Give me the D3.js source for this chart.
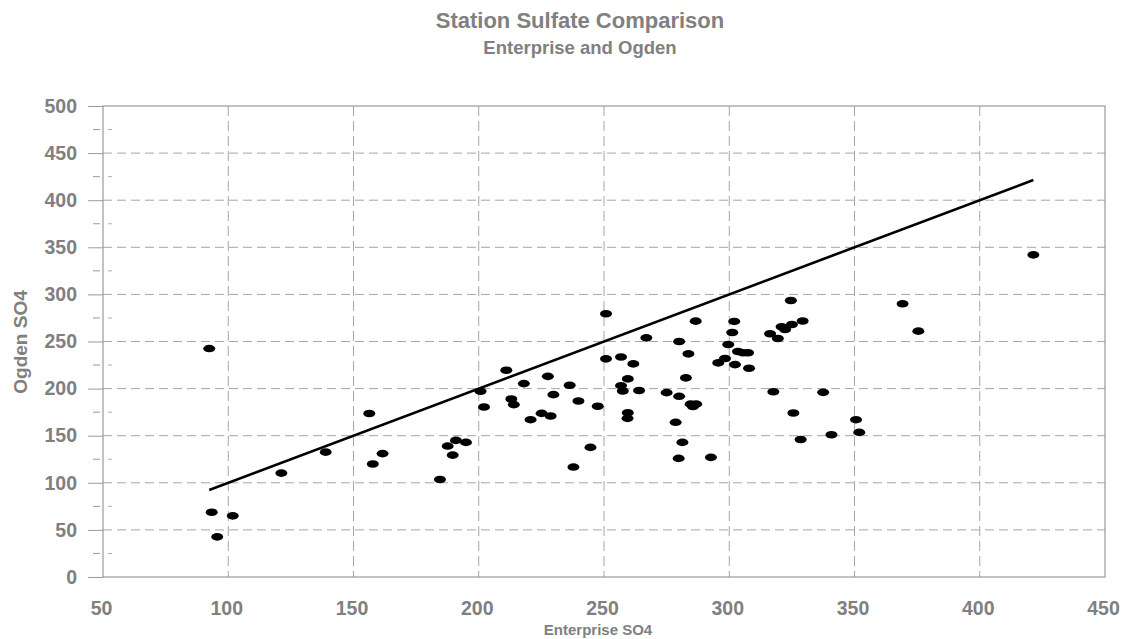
<!DOCTYPE html>
<html><head><meta charset="utf-8">
<script src="https://cdn.jsdelivr.net/npm/d3@7/dist/d3.min.js"></script>
<style>
body{margin:0;background:#fff;}
text{font-family:"Liberation Sans",Arial,sans-serif;font-weight:bold;fill:#808080;}
</style></head><body>
<svg id="c" width="1124" height="639"></svg>
<script>
const enterprise = [92.4,93.4,95.6,101.8,121.2,138.9,156.3,157.7,161.6,184.5,187.6,189.6,190.9,194.9,200.7,202.1,211,213,214,218,220.7,225.1,227.6,228.7,229.8,236.3,237.8,239.8,244.6,247.5,250.8,250.8,256.8,256.8,257.5,259.5,259.5,259.4,261.7,264,266.9,275,278.6,280,280,279.8,281.3,282.7,283.7,284.6,285.5,286.6,286.8,292.7,295.6,298.3,299.6,301.2,302,302.3,303.5,305.5,307.5,307.9,316.3,317.6,319.4,320.9,322.3,325,324.6,325.6,328.5,329.3,337.5,340.8,350.6,351.9,369.2,375.5,421.4];
const ogden = [242.5,68.8,42.6,64.9,110.3,132.6,173.6,120,131,103.5,139,129.4,145,142.9,197.2,180.5,219.5,189,183,205.3,167,173.7,213,170.9,193.6,203.5,116.7,186.9,137.6,181.2,279.5,231.6,233.5,203.1,197.5,210.3,174.3,168.4,226.2,198,253.9,195.7,164.2,250,191.8,125.9,142.9,211.4,236.9,183.5,181,271.6,183.5,127,227.3,231.9,246.8,259.6,271.3,225.5,239.4,238,238,221.6,258.2,196.7,253.2,265.6,262.8,268,293.5,174.1,146,271.7,196,151,167,153.5,290,261,342];
const xTicks = [50,100,150,200,250,300,350,400,450];
const yTicks = [0,50,100,150,200,250,300,350,400,450,500];
const yMinor = [25,75,125,175,225,275,325,375,425,475];
const title = "Station Sulfate Comparison";
const subtitle = "Enterprise and Ogden";
const xLabel = "Enterprise SO4";
const yLabel = "Ogden SO4";

const svg = d3.select("#c");
const L=103,R=1105,T=106,B=577;
const x = d3.scaleLinear().domain([50,450]).range([L,R]);
const y = d3.scaleLinear().domain([0,500]).range([B,T]);
const grid = "#a6a6a6";
const FF = "Liberation Sans, Arial, sans-serif";

// gridlines
svg.append("g").selectAll("line").data(yTicks.filter(v=>v>0&&v<500)).join("line")
  .attr("x1",L).attr("x2",R).attr("y1",d=>y(d)).attr("y2",d=>y(d))
  .attr("stroke",grid).attr("stroke-width",1).attr("stroke-dasharray","9,5");
svg.append("g").selectAll("line").data(xTicks.filter(v=>v>50&&v<450)).join("line")
  .attr("x1",d=>x(d)).attr("x2",d=>x(d)).attr("y1",T).attr("y2",B)
  .attr("stroke",grid).attr("stroke-width",1).attr("stroke-dasharray","10,5");

// frame
svg.append("rect").attr("x",L).attr("y",T).attr("width",R-L).attr("height",B-T)
  .attr("fill","none").attr("stroke","#9a9a9a").attr("stroke-width",1.2);

// minor ticks
svg.append("g").selectAll("line").data(yMinor).join("line")
  .attr("x1",93).attr("x2",100).attr("y1",d=>y(d)).attr("y2",d=>y(d)).attr("stroke","#9a9a9a");
svg.append("g").selectAll("line").data(yMinor).join("line")
  .attr("x1",108).attr("x2",112).attr("y1",d=>y(d)).attr("y2",d=>y(d)).attr("stroke","#b0b0b0");

// y axis
const ya = svg.append("g").attr("transform",`translate(${L},0)`)
  .call(d3.axisLeft(y).tickValues(yTicks).tickSize(15).tickPadding(11));
ya.select(".domain").remove();
ya.selectAll("line").attr("stroke","#9a9a9a");
ya.selectAll("text").attr("x",-26).attr("font-size",19.5).attr("fill","#808080").style("font-family",FF).style("font-weight","bold");

// x axis
const xa = svg.append("g").attr("transform",`translate(0,${B})`)
  .call(d3.axisBottom(x).tickValues(xTicks).tickSize(0));
xa.select(".domain").remove();
xa.selectAll("text").attr("y",38).attr("dy",0).attr("dx",-2).attr("font-size",19.5).attr("fill","#808080").style("font-family",FF).style("font-weight","bold");

// y=x line
const lo = d3.min(enterprise), hi = d3.max(enterprise);
svg.append("line").attr("x1",x(lo)).attr("y1",y(lo)).attr("x2",x(hi)).attr("y2",y(hi))
  .attr("stroke","#000").attr("stroke-width",2.6);

// points
svg.append("g").selectAll("ellipse").data(enterprise.map((e,i)=>[e,ogden[i]])).join("ellipse")
  .attr("cx",d=>x(d[0])).attr("cy",d=>y(d[1])).attr("rx",6).attr("ry",3.8).attr("fill","#000");

// titles
svg.append("text").attr("x",580).attr("y",28).attr("text-anchor","middle").attr("font-size",22).text(title);
svg.append("text").attr("x",580).attr("y",54).attr("text-anchor","middle").attr("font-size",18.5).text(subtitle);
svg.append("text").attr("x",598).attr("y",635).attr("text-anchor","middle").attr("font-size",15).text(xLabel);
svg.append("text").attr("transform","translate(27,342) rotate(-90)").attr("text-anchor","middle").attr("font-size",19).text(yLabel);
</script></body></html>
